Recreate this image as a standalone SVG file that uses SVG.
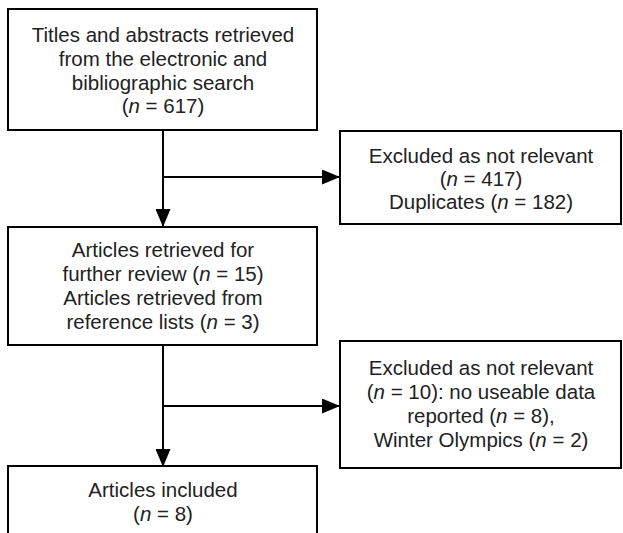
<svg xmlns="http://www.w3.org/2000/svg" width="623" height="533" viewBox="0 0 623 533">
<style>
.box{fill:#fff;stroke:#000;stroke-width:2}
.t{font-family:"Liberation Sans",Arial,sans-serif;font-size:20.5px;fill:#222;text-anchor:middle}
.i{font-style:italic}
.c{stroke:#000;stroke-width:2;fill:none}
</style>
<defs>
<marker id="ah" viewBox="0 0 18 15" refX="17" refY="7.5" markerWidth="9" markerHeight="7.5" markerUnits="strokeWidth" orient="auto">
<path d="M0,0 L18,7.5 L0,15 z" fill="#000"/>
</marker>
</defs>
<rect width="623" height="533" fill="#fff"/>
<g id="connectors">
<path class="c" d="M163,130 V226" marker-end="url(#ah)"/>
<path class="c" d="M163,177 H339" marker-end="url(#ah)"/>
<path class="c" d="M163,345 V466" marker-end="url(#ah)"/>
<path class="c" d="M163,406 H339" marker-end="url(#ah)"/>
</g>
<g id="n1">
<rect class="box" x="8" y="9" width="309" height="121"/>
<text class="t" x="163" y="42">Titles and abstracts retrieved</text>
<text class="t" x="163" y="66">from the electronic and</text>
<text class="t" x="163" y="90">bibliographic search</text>
<text class="t" x="163" y="113">(<tspan class="i">n</tspan> = 617)</text>
</g>
<g id="n2">
<rect class="box" x="340" y="131" width="281" height="93"/>
<text class="t" x="481" y="163">Excluded as not relevant</text>
<text class="t" x="481" y="186">(<tspan class="i">n</tspan> = 417)</text>
<text class="t" x="481" y="209">Duplicates (<tspan class="i">n</tspan> = 182)</text>
</g>
<g id="n3">
<rect class="box" x="8" y="227" width="309" height="118"/>
<text class="t" x="163" y="257">Articles retrieved for</text>
<text class="t" x="163" y="281">further review (<tspan class="i">n</tspan> = 15)</text>
<text class="t" x="163" y="305">Articles retrieved from</text>
<text class="t" x="163" y="329">reference lists (<tspan class="i">n</tspan> = 3)</text>
</g>
<g id="n4">
<rect class="box" x="340" y="341" width="281" height="127"/>
<text class="t" x="481" y="375">Excluded as not relevant</text>
<text class="t" x="481" y="399">(<tspan class="i">n</tspan> = 10): no useable data</text>
<text class="t" x="481" y="423">reported (<tspan class="i">n</tspan> = 8),</text>
<text class="t" x="481" y="447">Winter Olympics (<tspan class="i">n</tspan> = 2)</text>
</g>
<g id="n5">
<rect class="box" x="8" y="466" width="309" height="80"/>
<text class="t" x="163" y="497">Articles included</text>
<text class="t" x="163" y="521">(<tspan class="i">n</tspan> = 8)</text>
</g>
</svg>
